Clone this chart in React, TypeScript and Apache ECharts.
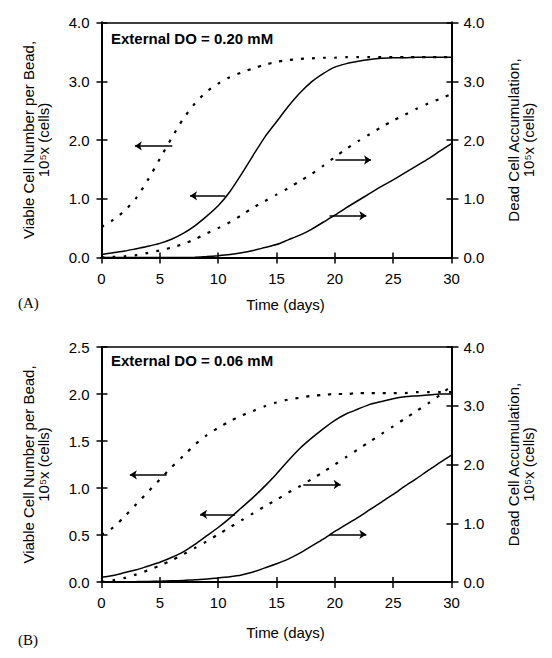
import { useEffect, useRef } from 'react';
import * as echarts from 'echarts';

const days = [0, 1, 2, 3, 4, 5, 6, 7, 8, 9, 10, 11, 12, 13, 14, 15, 16, 17, 18, 19, 20, 21, 22, 23, 24, 25, 26, 27, 28, 29, 30];

// Panel A (External DO = 0.20 mM)
const viableDashA = [0.52, 0.64, 0.80, 1.02, 1.33, 1.68, 2.03, 2.36, 2.62, 2.82, 2.96, 3.07, 3.15, 3.22, 3.28, 3.33, 3.36, 3.38, 3.39, 3.40, 3.40, 3.41, 3.41, 3.41, 3.41, 3.41, 3.41, 3.41, 3.41, 3.41, 3.41];
const viableSolidA = [0.05, 0.08, 0.11, 0.15, 0.19, 0.24, 0.31, 0.41, 0.54, 0.70, 0.88, 1.12, 1.42, 1.74, 2.05, 2.31, 2.57, 2.80, 2.99, 3.13, 3.24, 3.30, 3.34, 3.37, 3.39, 3.40, 3.40, 3.41, 3.41, 3.41, 3.41];
const deadDashA = [0, 0.01, 0.02, 0.04, 0.08, 0.12, 0.17, 0.23, 0.31, 0.41, 0.50, 0.60, 0.72, 0.85, 0.96, 1.07, 1.18, 1.30, 1.42, 1.56, 1.71, 1.85, 1.98, 2.10, 2.22, 2.33, 2.43, 2.53, 2.62, 2.70, 2.78];
const deadSolidA = [0, 0, 0, 0, 0, 0, 0, 0, 0.005, 0.015, 0.03, 0.05, 0.08, 0.12, 0.17, 0.22, 0.30, 0.38, 0.48, 0.60, 0.72, 0.85, 0.97, 1.09, 1.21, 1.32, 1.44, 1.56, 1.68, 1.81, 1.94];

// Panel B (External DO = 0.06 mM)
const viableDashB = [0.50, 0.58, 0.70, 0.83, 0.96, 1.09, 1.22, 1.34, 1.46, 1.56, 1.64, 1.71, 1.77, 1.82, 1.87, 1.91, 1.94, 1.96, 1.98, 1.99, 2.00, 2.00, 2.01, 2.01, 2.01, 2.01, 2.01, 2.02, 2.02, 2.02, 2.02];
const viableSolidB = [0.05, 0.07, 0.10, 0.13, 0.17, 0.21, 0.26, 0.32, 0.40, 0.49, 0.58, 0.68, 0.79, 0.90, 1.02, 1.15, 1.29, 1.42, 1.53, 1.63, 1.72, 1.79, 1.84, 1.89, 1.92, 1.95, 1.97, 1.98, 1.99, 2.00, 2.00];
const deadDashB = [0, 0.03, 0.07, 0.13, 0.20, 0.28, 0.37, 0.47, 0.58, 0.69, 0.81, 0.93, 1.05, 1.17, 1.29, 1.40, 1.52, 1.63, 1.75, 1.87, 2.00, 2.13, 2.26, 2.39, 2.52, 2.65, 2.78, 2.91, 3.04, 3.18, 3.34];
const deadSolidB = [0, 0, 0.005, 0.007, 0.01, 0.013, 0.02, 0.025, 0.04, 0.05, 0.07, 0.09, 0.12, 0.17, 0.24, 0.31, 0.39, 0.49, 0.61, 0.73, 0.86, 0.98, 1.10, 1.23, 1.36, 1.49, 1.63, 1.76, 1.90, 2.03, 2.16];

// Axis ranges [min, max, interval]
const xRange = [0, 30, 5];
const leftRangeA = [0, 4, 1];
const rightRangeA = [0, 4, 1];
const leftRangeB = [0, 2.5, 0.5];
const rightRangeB = [0, 4, 1];

// Arrow annotations: [tail x, tail y, head x, head y]
const arrowsA = {
  viableDash: [6.07, 1.9, 2.86, 1.9],
  viableSolid: [10.6, 1.05, 7.59, 1.05],
  deadDash: [20.05, 1.66, 23.1, 1.66],
  deadSolid: [19.55, 0.71, 22.7, 0.71],
};
const arrowsB = {
  viableDash: [5.58, 1.14, 2.43, 1.14],
  viableSolid: [11.45, 0.72, 8.45, 0.72],
  deadDash: [17.3, 1.66, 20.5, 1.66],
  deadSolid: [19.5, 0.81, 22.7, 0.81],
};

const panelTitles = ['External DO = 0.20 mM', 'External DO = 0.06 mM'];
const panelLetters = ['(A)', '(B)'];
const xName = 'Time (days)';
const leftName = 'Viable Cell Number per Bead,\n10⁵x (cells)';
const rightName = 'Dead Cell Accumulation,\n10⁵x (cells)';

const FONT = '"Liberation Sans", Arial, sans-serif';

function pairs(vals: number[]) {
  return days.map((d, i) => [d, vals[i]]);
}

function arrowLine(a: number[]) {
  return {
    silent: true,
    symbol: ['none', 'arrow'],
    symbolSize: 7,
    label: { show: false },
    emphasis: { disabled: true },
    lineStyle: { type: 'solid', color: '#000', width: 1.5 },
    data: [[{ coord: [a[0], a[1]] }, { coord: [a[2], a[3]] }]],
  };
}

export default function App() {
  const ref = useRef<HTMLDivElement>(null);
  useEffect(() => {
    if (!ref.current) return;
    const chart = echarts.init(ref.current, null, { renderer: 'svg' });

    const grids = [
      { left: 101.5, width: 350, top: 22.5, height: 235, outerBoundsMode: 'none' },
      { left: 101.5, width: 350, top: 347, height: 235, outerBoundsMode: 'none' },
    ];

    const axisLineMain = { show: true, onZero: false, lineStyle: { color: '#000', width: 2 } };
    const xAxes: any[] = [];
    const yAxes: any[] = [];
    const nameGapsX = [39, 43];
    [0, 1].forEach((g) => {
      const base = {
        gridIndex: g,
        type: 'value',
        min: xRange[0],
        max: xRange[1],
        interval: xRange[2],
        splitLine: { show: false },
      };
      xAxes.push({
        ...base,
        position: 'bottom',
        name: xName,
        nameLocation: 'middle',
        nameGap: nameGapsX[g],
        nameTextStyle: { fontFamily: FONT, fontSize: 15, color: '#000', padding: [0, 0, 0, 18] },
        axisLine: axisLineMain,
        axisTick: { show: true, inside: false, length: 6, lineStyle: { color: '#000', width: 1.5 } },
        axisLabel: { fontFamily: FONT, fontSize: 15, color: '#000', margin: 13 },
      });
      xAxes.push({
        ...base,
        position: 'bottom',
        axisLine: axisLineMain,
        axisTick: { show: true, inside: true, length: 5, lineStyle: { color: '#000', width: 1.5 } },
        axisLabel: { show: false },
      });
      xAxes.push({
        ...base,
        position: 'top',
        axisLine: { show: true, onZero: false, lineStyle: { color: '#000', width: 1.5 } },
        axisTick: { show: false },
        axisLabel: { show: false },
      });

      const lr = g === 0 ? leftRangeA : leftRangeB;
      const rr = g === 0 ? rightRangeA : rightRangeB;
      const yBase = (r: number[], pos: string) => ({
        gridIndex: g,
        type: 'value',
        position: pos,
        min: r[0],
        max: r[1],
        interval: r[2],
        splitLine: { show: false },
      });
      yAxes.push({
        ...yBase(lr, 'left'),
        name: leftName,
        nameLocation: 'middle',
        nameRotate: 90,
        nameGap: 51,
        nameTextStyle: { fontFamily: FONT, fontSize: 15, color: '#000', lineHeight: 15 },
        axisLine: axisLineMain,
        axisTick: { show: true, inside: false, length: 5, lineStyle: { color: '#000', width: 1.5 } },
        axisLabel: { fontFamily: FONT, fontSize: 15, color: '#000', margin: 12, formatter: (v: number) => v.toFixed(1) },
      });
      yAxes.push({
        ...yBase(lr, 'left'),
        axisLine: axisLineMain,
        axisTick: { show: true, inside: true, length: 6, lineStyle: { color: '#000', width: 1.5 } },
        axisLabel: { show: false },
      });
      yAxes.push({
        ...yBase(rr, 'right'),
        name: rightName,
        nameLocation: 'middle',
        nameRotate: 90,
        nameGap: 54,
        nameTextStyle: { fontFamily: FONT, fontSize: 15, color: '#000', lineHeight: 15 },
        axisLine: axisLineMain,
        axisTick: { show: true, inside: false, length: 7, lineStyle: { color: '#000', width: 1.5 } },
        axisLabel: { fontFamily: FONT, fontSize: 15, color: '#000', margin: 12, formatter: (v: number) => v.toFixed(1) },
      });
      yAxes.push({
        ...yBase(rr, 'right'),
        axisLine: axisLineMain,
        axisTick: { show: true, inside: true, length: 5, lineStyle: { color: '#000', width: 1.5 } },
        axisLabel: { show: false },
      });
    });

    const solid = { color: '#000', width: 1.5, type: 'solid' };
    const dashed = { color: '#000', width: 2.2, type: [3, 8] };

    const mk = (g: number, yIdx: number, vals: number[], style: any, arrow: number[]) => ({
      type: 'line',
      xAxisIndex: g * 3,
      yAxisIndex: g * 4 + yIdx,
      data: pairs(vals),
      showSymbol: false,
      symbol: 'none',
      smooth: 0.25,
      lineStyle: style,
      silent: true,
      markLine: arrowLine(arrow),
    });

    const series = [
      mk(0, 0, viableDashA, dashed, arrowsA.viableDash),
      mk(0, 0, viableSolidA, solid, arrowsA.viableSolid),
      mk(0, 2, deadDashA, dashed, arrowsA.deadDash),
      mk(0, 2, deadSolidA, solid, arrowsA.deadSolid),
      mk(1, 0, viableDashB, dashed, arrowsB.viableDash),
      mk(1, 0, viableSolidB, solid, arrowsB.viableSolid),
      mk(1, 2, deadDashB, dashed, arrowsB.deadDash),
      mk(1, 2, deadSolidB, solid, arrowsB.deadSolid),
    ];

    const titleY = [40, 362];
    const letterY = [304, 641];
    const graphic: any[] = [];
    [0, 1].forEach((g) => {
      graphic.push({
        type: 'text',
        left: 111,
        top: titleY[g] - 9,
        style: { text: panelTitles[g], fontFamily: FONT, fontSize: 15, fontWeight: 'bold', fill: '#000' },
      });
      graphic.push({
        type: 'text',
        left: 18,
        top: letterY[g] - 9,
        style: { text: panelLetters[g], fontFamily: '"Liberation Serif", "Times New Roman", serif', fontSize: 15, fill: '#000' },
      });
    });

    chart.setOption({
      animation: false,
      backgroundColor: '#fff',
      grid: grids,
      xAxis: xAxes,
      yAxis: yAxes,
      series,
      graphic,
    });
    return () => chart.dispose();
  }, []);
  return <div ref={ref} style={{ position: 'fixed', left: 0, top: 0, width: 552, height: 658 }} />;
}
